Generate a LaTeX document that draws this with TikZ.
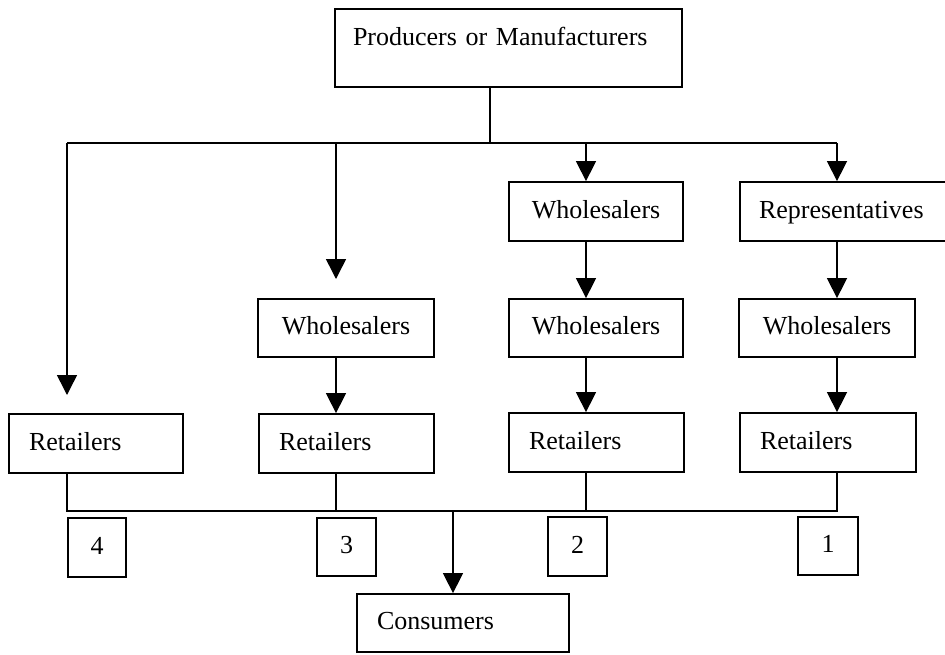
\documentclass[tikz,border=0pt]{standalone}
\usepackage{fontspec}
\setmainfont{Liberation Serif}
\usetikzlibrary{arrows.meta}
\begin{document}
\begin{tikzpicture}[x=1pt,y=-1pt,
  box/.style={draw, line width=1.8pt, inner sep=0pt, align=center,
    text height=18pt, text depth=5pt,
    font=\fontsize{26}{30}\selectfont},
  lbox/.style={box, align=left, inner xsep=20pt},
  link/.style={line width=1.5pt},
  flow/.style={link, -{Triangle[width=20pt,length=20pt]}}]
\useasboundingbox (0,0) rectangle (945,654);

% top level
\node[box, align=left, inner xsep=18pt, inner ysep=4pt, text width=311pt,
  text height=32pt, text depth=38pt] (prod) at (508.5,48) {Producers or Manufacturers};

% first tier
\node[box, minimum width=174pt, minimum height=59pt] (wA) at (596,211.5) {Wholesalers};
\node[lbox, inner xsep=19pt, text width=168pt, minimum height=59pt] (rep) at (843,211.5) {Representatives};

% second tier
\node[box, minimum width=176pt, minimum height=58pt] (wB) at (346,328) {Wholesalers};
\node[box, minimum width=174pt, minimum height=58pt] (wC) at (596,328) {Wholesalers};
\node[box, minimum width=176pt, minimum height=58pt] (wD) at (827,328) {Wholesalers};

% retailers
\node[lbox, text width=134pt, minimum height=59pt] (r4) at (96,443.5) {Retailers};
\node[lbox, text width=135pt, minimum height=59pt] (r3) at (346.5,443.5) {Retailers};
\node[lbox, text width=135pt, minimum height=59pt] (r2) at (596.5,442.5) {Retailers};
\node[lbox, text width=136pt, minimum height=59pt] (r1) at (828,442.5) {Retailers};

% channel numbers
\node[box, minimum width=58pt, minimum height=59pt] (n4) at (97,547.5) {4};
\node[box, minimum width=59pt, minimum height=58pt] (n3) at (346.5,547) {3};
\node[box, minimum width=59pt, minimum height=59pt] (n2) at (577.5,546.5) {2};
\node[box, minimum width=60pt, minimum height=58pt] (n1) at (828,546) {1};

% consumers
\node[lbox, text width=172pt, minimum height=58pt] (cons) at (463,623) {Consumers};

% junction points
\coordinate (hub) at (490,143);
\coordinate (c4) at (67,143);
\coordinate (c3) at (336,143);
\coordinate (c2) at (586,143);
\coordinate (c1) at (837,143);
\coordinate (t4) at (67,395);
\coordinate (t3) at (336,279);
\coordinate (low) at (453,511);

% distribution from the producers
\draw[link] (hub |- prod.south) -- (hub);
\draw[link] (c4) -- (c1);
\draw[flow] (c4) -- (t4);
\draw[flow] (c3) -- (t3);
\draw[flow] (c2) -- (c2 |- wA.north);
\draw[flow] (c1) -- (c1 |- rep.north);

% intermediate links
\draw[flow] (c3 |- wB.south) -- (c3 |- r3.north);
\draw[flow] (c2 |- wA.south) -- (c2 |- wC.north);
\draw[flow] (c2 |- wC.south) -- (c2 |- r2.north);
\draw[flow] (c1 |- rep.south) -- (c1 |- wD.north);
\draw[flow] (c1 |- wD.south) -- (c1 |- r1.north);

% retailers to consumers
\draw[link] (c4 |- r4.south) -- (c4 |- low) -- (c1 |- low) -- (c1 |- r1.south);
\draw[link] (c3 |- r3.south) -- (c3 |- low);
\draw[link] (c2 |- r2.south) -- (c2 |- low);
\draw[flow] (low) -- (low |- cons.north);
\end{tikzpicture}
\end{document}
